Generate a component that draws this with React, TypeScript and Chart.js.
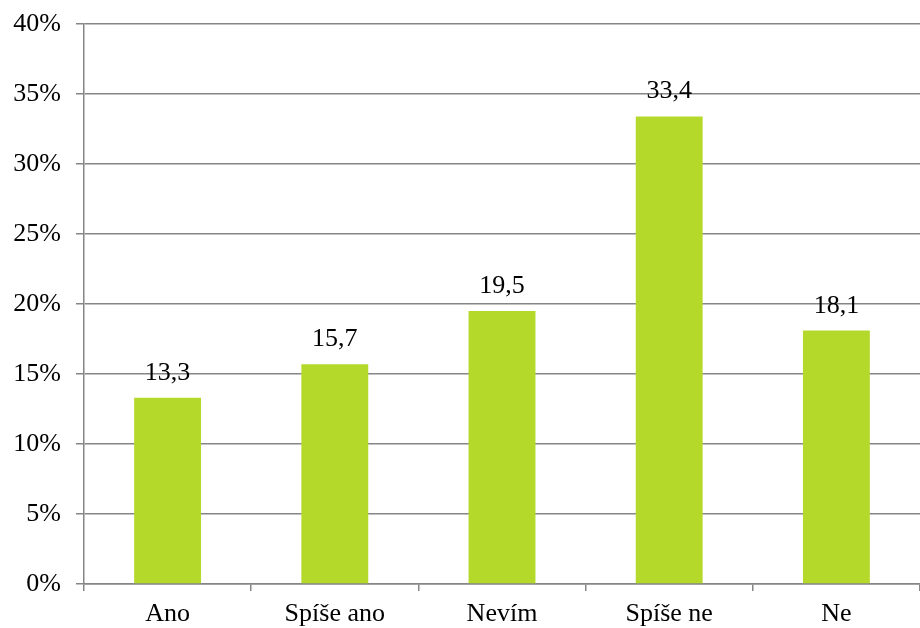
import React, { useEffect, useRef } from "react";
import { Chart, registerables } from "chart.js";

Chart.register(...registerables);

const categories = ["Ano", "Spíše ano", "Nevím", "Spíše ne", "Ne"];
const values = [13.3, 15.7, 19.5, 33.4, 18.1];
const valueLabels = ["13,3", "15,7", "19,5", "33,4", "18,1"];
const yTicks = [0, 5, 10, 15, 20, 25, 30, 35, 40];

const FONT = "'Liberation Serif', 'Times New Roman', serif";
const GRID = "#868686";
const FS = 26;

const labelPlugin = {
  id: "valueLabels",
  afterDatasetsDraw(chart: any) {
    const ctx = chart.ctx;
    const meta = chart.getDatasetMeta(0);
    ctx.save();
    ctx.font = `${FS}px ${FONT}`;
    ctx.fillStyle = "#000";
    ctx.textAlign = "center";
    ctx.textBaseline = "alphabetic";
    meta.data.forEach((bar: any, i: number) => {
      ctx.fillText(valueLabels[i], bar.x, bar.y - 18);
    });
    ctx.restore();
  },
};

export default function App() {
  const ref = useRef<HTMLCanvasElement>(null);
  useEffect(() => {
    if (!ref.current) return;
    const chart = new Chart(ref.current, {
      type: "bar",
      data: {
        labels: categories,
        datasets: [
          {
            data: values,
            backgroundColor: "#B5D92A",
            categoryPercentage: 0.4,
            barPercentage: 1,
          },
        ],
      },
      options: {
        responsive: false,
        animation: false,
        layout: { padding: { top: 24, right: 0, left: 0, bottom: 0 } },
        plugins: { legend: { display: false }, tooltip: { enabled: false } },
        scales: {
          x: {
            grid: {
              drawOnChartArea: false,
              drawTicks: true,
              tickLength: 7,
              color: GRID,
              lineWidth: 1.5,
            },
            border: { color: GRID, width: 1.5 },
            ticks: {
              color: "#000",
              font: { family: FONT, size: FS },
              padding: 8,
              maxRotation: 0,
              autoSkip: false,
            },
            afterFit(scale: any) {
              scale.height = 44;
              scale.paddingLeft = 0;
              scale.paddingRight = 0;
            },
          },
          y: {
            min: 0,
            max: 40,
            afterBuildTicks(scale: any) {
              scale.ticks = yTicks.map((v) => ({ value: v }));
            },
            grid: {
              color: GRID,
              lineWidth: 1.5,
              tickLength: 8,
            },
            border: { color: GRID, width: 1.5 },
            ticks: {
              color: "#000",
              font: { family: FONT, size: FS },
              padding: 15,
              callback: (v: any) => `${v}%`,
            },
            afterFit(scale: any) {
              scale.width = 84;
              scale.paddingTop = 0;
              scale.paddingBottom = 0;
            },
          },
        },
      },
      plugins: [labelPlugin],
    });
    return () => chart.destroy();
  }, []);
  return (
    <div style={{ position: "absolute", left: 0, top: 0, width: 920, height: 628, background: "#fff" }}>
      <canvas ref={ref} width={920} height={628} />
    </div>
  );
}
